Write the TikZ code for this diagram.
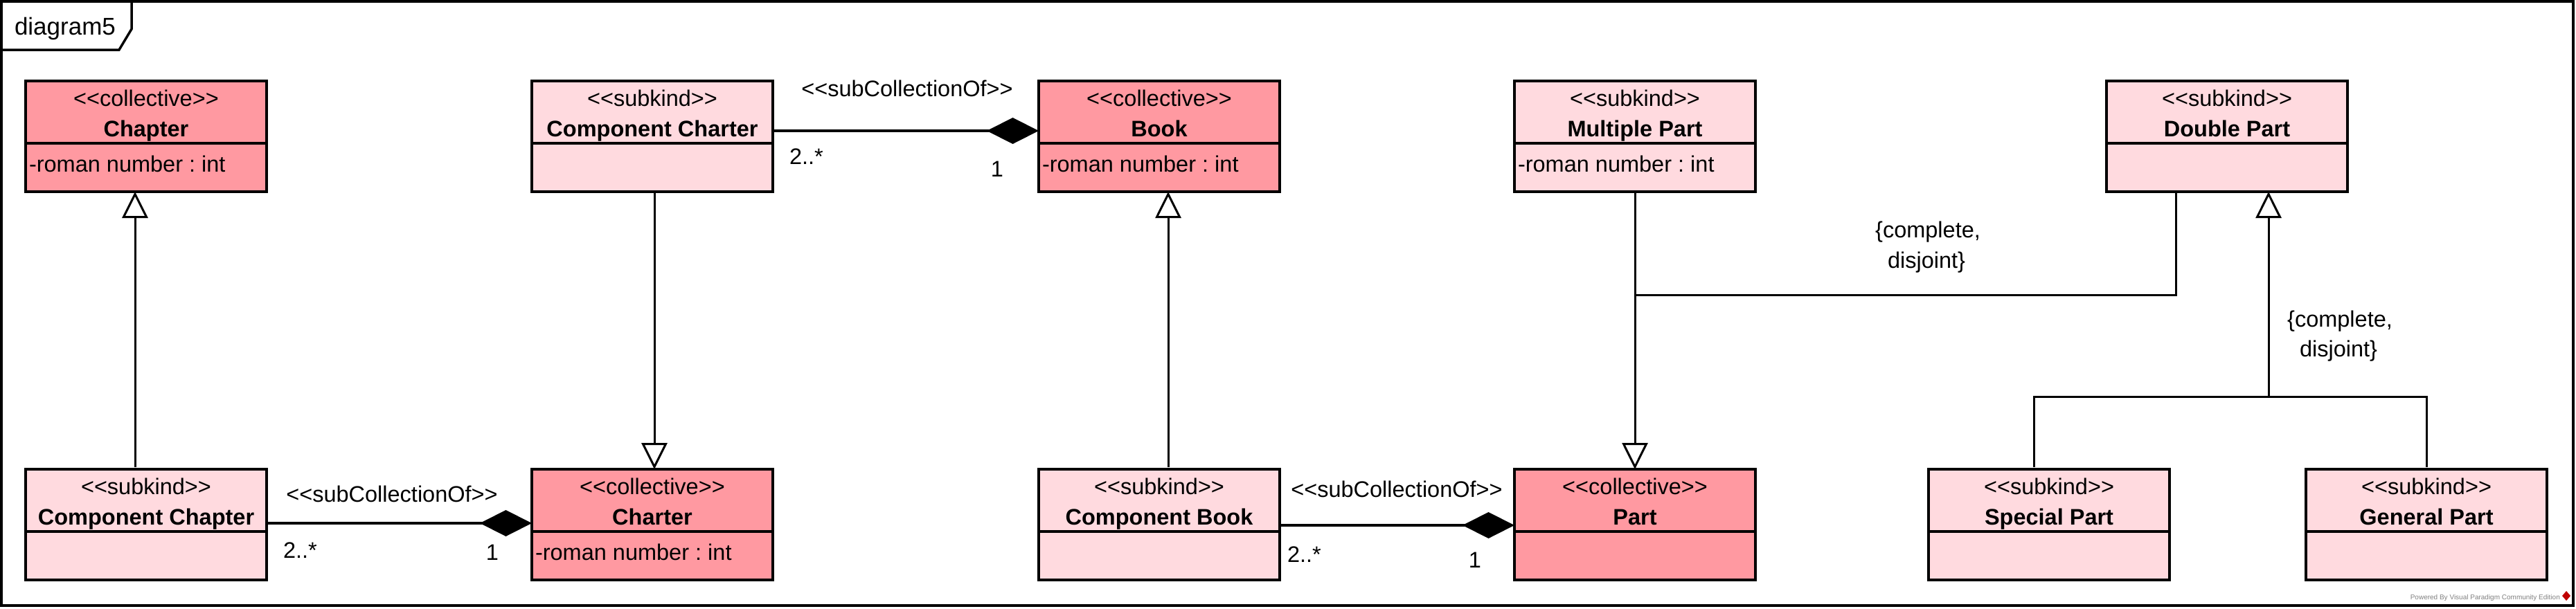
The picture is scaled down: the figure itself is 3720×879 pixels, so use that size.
\documentclass[tikz,border=0pt]{standalone}
\usepackage{fontspec}
\setmainfont{Liberation Sans}
\usetikzlibrary{arrows.meta}
\definecolor{colc}{RGB}{255,153,161}
\definecolor{cols}{RGB}{255,218,223}
\newcommand\stL{<\kern0pt<}
\newcommand\stR{>\kern0pt>}
\frenchspacing
\tikzset{
  classbox/.style={draw=black, line width=4.5pt, minimum width=348pt, minimum height=160pt, inner sep=0pt, outer sep=0pt},
  classline/.style={line width=4pt},
  txt/.style={font=\fontsize{32.5}{39}\selectfont, inner sep=0pt, outer sep=0pt},
  conn/.style={line width=3pt},
  gen/.style={conn, -{Triangle[length=38pt,width=37pt,fill=white]}},
  comp/.style={line width=3.5pt, -{Diamond[length=75pt,width=38pt]}},
  frameline/.style={line width=3.5pt},
}
\newcommand\umlclass[7]{%
  \node[classbox, fill=#4, anchor=north west] (#1) at (#2,#3) {};
  \draw[classline] ([yshift=-90pt]#1.north west) -- ([yshift=-90pt]#1.north east);
  \node[txt, anchor=base] (#1-st) at ([yshift=-36pt]#1.north) {\stL#5\stR};
  \node[txt, font=\fontsize{32.5}{39}\selectfont\bfseries, anchor=base] (#1-nm) at ([yshift=-80pt]#1.north) {#6};
  \node[txt, anchor=base west] (#1-at) at ([xshift=5pt,yshift=-131pt]#1.north west) {#7};
}
\begin{document}
\begin{tikzpicture}[x=1pt,y=-1pt]
\useasboundingbox (0,0) rectangle (3720,879);
% frame
\draw[frameline] (2,2) rectangle (3716,875);
\draw[frameline] (2,72) -- (172,72) -- (190,42) -- (190,2);
\node[txt, font=\fontsize{35}{42}\selectfont, anchor=base west] (title) at (21,50) {diagram5};
% classes
\umlclass{chapter}{37}{117}{colc}{collective}{Chapter}{-roman number : int}
\umlclass{compcharter}{768}{117}{cols}{subkind}{Component Charter}{}
\umlclass{book}{1500}{117}{colc}{collective}{Book}{-roman number : int}
\umlclass{multipart}{2187}{117}{cols}{subkind}{Multiple Part}{-roman number : int}
\umlclass{doublepart}{3042}{117}{cols}{subkind}{Double Part}{}
\umlclass{compchapter}{37}{678}{cols}{subkind}{Component Chapter}{}
\umlclass{charter}{768}{678}{colc}{collective}{Charter}{-roman number : int}
\umlclass{compbook}{1500}{678}{cols}{subkind}{Component Book}{}
\umlclass{part}{2187}{678}{colc}{collective}{Part}{}
\umlclass{specialpart}{2785}{678}{cols}{subkind}{Special Part}{}
\umlclass{generalpart}{3330}{678}{cols}{subkind}{General Part}{}
% generalizations
\draw[gen, shorten <=3pt] (compchapter.north -| 195,0) -- (chapter.south -| 195,0);
\draw[gen, shorten <=2pt] (compcharter.south -| 945,0) -- (charter.north -| 945,0);
\draw[gen, shorten <=3pt] (compbook.north -| 1687,0) -- (book.south -| 1687,0);
\draw[gen, shorten <=2pt] (multipart.south -| 2361,0) -- (part.north -| 2361,0);
\coordinate (j1) at (2361,426);
\draw[conn, shorten <=2pt] (doublepart.south -| 3142,0) |- (j1);
\coordinate (j2) at (3276,573);
\draw[gen] (j2) -- (doublepart.south -| 3276,0);
\draw[conn, shorten <=3pt] (specialpart.north -| 2937,0) |- (j2);
\draw[conn, shorten <=3pt] (generalpart.north -| 3504,0) |- (j2);
\node[txt, anchor=base] (gs1a) at (2784,343) {\{complete,};
\node[txt, anchor=base] (gs1b) at (2782,387) {disjoint\}};
\node[txt, anchor=base] (gs2a) at (3379,472) {\{complete,};
\node[txt, anchor=base] (gs2b) at (3377,515) {disjoint\}};
% compositions
\draw[comp, shorten <=2pt] (compcharter.east |- 0,189) -- (book.west |- 0,189);
\node[txt, anchor=base] (l1) at (1310,139) {\stL subCollectionOf\stR};
\node[txt, anchor=base west] (m1a) at (1140,237) {2..*};
\node[txt, anchor=base] (m1b) at (1440,255) {1};
\draw[comp, shorten <=2pt] (compchapter.east |- 0,756) -- (charter.west |- 0,756);
\node[txt, anchor=base] (l2) at (566,725) {\stL subCollectionOf\stR};
\node[txt, anchor=base west] (m2a) at (409,806) {2..*};
\node[txt, anchor=base] (m2b) at (711,809) {1};
\draw[comp, shorten <=2pt] (compbook.east |- 0,759) -- (part.west |- 0,759);
\node[txt, anchor=base] (l3) at (2017,718) {\stL subCollectionOf\stR};
\node[txt, anchor=base west] (m3a) at (1859,812) {2..*};
\node[txt, anchor=base] (m3b) at (2130,820) {1};
% watermark
\node[inner sep=0pt, font=\fontsize{10}{12}\selectfont, text=gray, anchor=base east] (wm) at (3697,866) {Powered By Visual Paradigm Community Edition};
\fill[red!75!black] (3706,854) -- (3712,861) -- (3706,868) -- (3700,861) -- cycle;
\end{tikzpicture}
\end{document}
